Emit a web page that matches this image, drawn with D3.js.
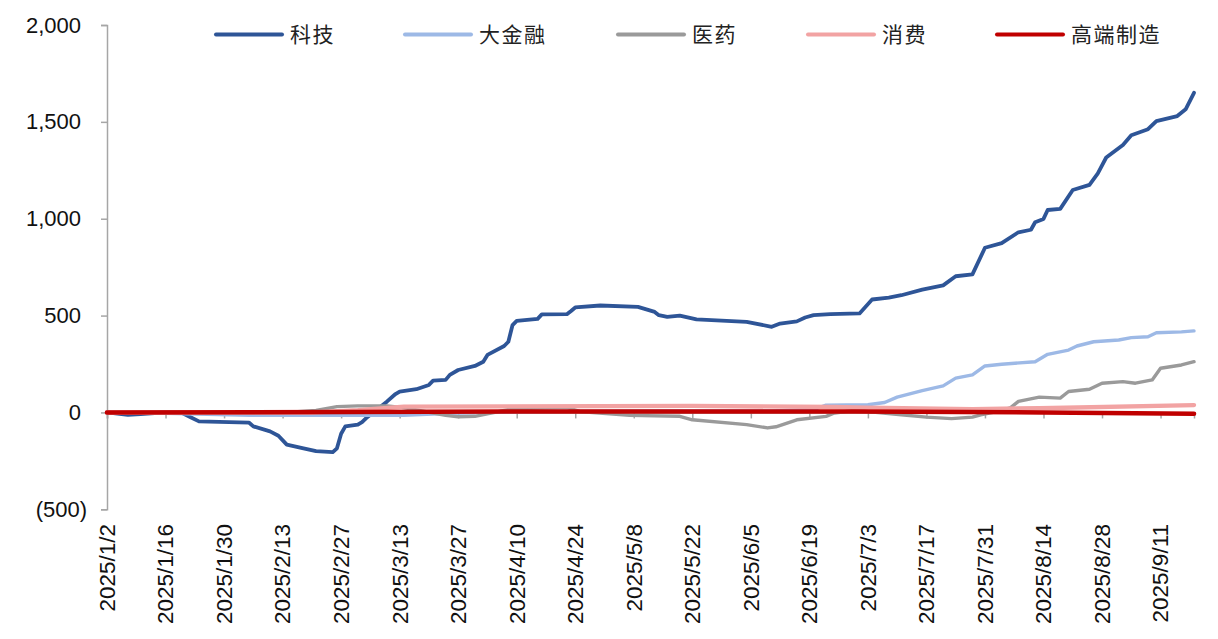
<!DOCTYPE html>
<html>
<head>
<meta charset="utf-8">
<script src="https://cdn.jsdelivr.net/npm/d3@7"></script>
<style>
  html, body { margin: 0; padding: 0; background: #fff; }
  svg { display: block; }
</style>
</head>
<body>
<svg id="chart" width="1218" height="639"></svg>
<script>
// ---------- data ----------
const seriesNames = ["科技", "大金融", "医药", "消费", "高端制造"];

const techDates = ["2025/1/2","2025/1/7","2025/1/10","2025/1/16","2025/1/20","2025/1/22","2025/1/24","2025/2/5","2025/2/6","2025/2/10","2025/2/12","2025/2/14","2025/2/18","2025/2/21","2025/2/25","2025/2/26","2025/2/27","2025/2/28","2025/3/3","2025/3/4","2025/3/5","2025/3/7","2025/3/10","2025/3/12","2025/3/13","2025/3/17","2025/3/20","2025/3/21","2025/3/24","2025/3/25","2025/3/27","2025/3/31","2025/4/2","2025/4/3","2025/4/7","2025/4/8","2025/4/9","2025/4/10","2025/4/15","2025/4/16","2025/4/22","2025/4/23","2025/4/24","2025/4/30","2025/5/9","2025/5/13","2025/5/14","2025/5/16","2025/5/19","2025/5/23","2025/6/4","2025/6/10","2025/6/12","2025/6/16","2025/6/18","2025/6/20","2025/6/24","2025/7/1","2025/7/4","2025/7/8","2025/7/11","2025/7/16","2025/7/21","2025/7/24","2025/7/28","2025/7/31","2025/8/4","2025/8/8","2025/8/11","2025/8/12","2025/8/14","2025/8/15","2025/8/18","2025/8/21","2025/8/25","2025/8/27","2025/8/29","2025/9/2","2025/9/4","2025/9/8","2025/9/10","2025/9/15","2025/9/17","2025/9/19"];
const techValues = [0,-12,-8,0,-3,-25,-46,-53,-72,-98,-120,-166,-185,-200,-205,-185,-110,-72,-63,-50,-29,5,57,95,108,120,142,164,168,194,219,240,262,297,343,365,451,473,483,506,507,524,542,552,545,519,502,493,500,480,468,442,459,470,490,502,507,511,583,593,605,634,656,703,713,850,874,930,943,982,999,1045,1051,1148,1175,1234,1316,1381,1431,1462,1504,1530,1565,1650];

const finDates = ["2025/1/2","2025/1/16","2025/2/5","2025/3/14","2025/3/25","2025/4/15","2025/5/15","2025/6/10","2025/6/20","2025/6/23","2025/7/3","2025/7/7","2025/7/10","2025/7/16","2025/7/21","2025/7/24","2025/7/28","2025/7/31","2025/8/4","2025/8/12","2025/8/15","2025/8/20","2025/8/22","2025/8/26","2025/9/1","2025/9/4","2025/9/8","2025/9/10","2025/9/16","2025/9/19"];
const finValues = [0,-5,-15,-15,-5,5,8,8,15,38,40,51,79,113,137,177,194,240,249,262,300,322,343,365,374,386,391,411,416,421];

const medDates = ["2025/1/2","2025/1/16","2025/2/14","2025/2/21","2025/2/26","2025/3/3","2025/3/10","2025/3/14","2025/3/19","2025/3/24","2025/3/27","2025/3/31","2025/4/9","2025/4/22","2025/4/25","2025/5/7","2025/5/19","2025/5/22","2025/6/4","2025/6/9","2025/6/11","2025/6/16","2025/6/23","2025/6/25","2025/7/1","2025/7/3","2025/7/11","2025/7/17","2025/7/23","2025/7/28","2025/7/30","2025/8/4","2025/8/6","2025/8/8","2025/8/13","2025/8/18","2025/8/20","2025/8/25","2025/8/28","2025/9/2","2025/9/5","2025/9/9","2025/9/11","2025/9/16","2025/9/19"];
const medValues = [0,0,0,10,30,34,34,25,5,-15,-22,-20,19,26,5,-15,-20,-38,-63,-80,-74,-38,-20,-3,14,5,-12,-24,-32,-24,-12,9,23,57,79,74,108,120,151,159,151,168,228,245,262];

const consDates = ["2025/1/2","2025/2/20","2025/3/3","2025/3/14","2025/5/22","2025/6/25","2025/7/3","2025/7/28","2025/8/13","2025/9/19"];
const consValues = [0,0,12,30,34,28,25,17,22,38];

const mfgDates = ["2025/1/2","2025/3/1","2025/4/15","2025/6/30","2025/8/14","2025/9/19"];
const mfgValues = [0,2,5,5,0,-7];

const yTicks = [-500, 0, 500, 1000, 1500, 2000];
const xTickLabels = ["2025/1/2","2025/1/16","2025/1/30","2025/2/13","2025/2/27","2025/3/13","2025/3/27","2025/4/10","2025/4/24","2025/5/8","2025/5/22","2025/6/5","2025/6/19","2025/7/3","2025/7/17","2025/7/31","2025/8/14","2025/8/28","2025/9/11"];

const colors = ["#2E5597", "#9DB9E6", "#9A9A9A", "#F2A3A3", "#C00000"];
const widths = [3.8, 3.4, 3.4, 4.4, 4.6];

// ---------- build ----------
const parse = d3.timeParse("%Y/%m/%d");
const seriesData = [
  [techDates, techValues],
  [finDates, finValues],
  [medDates, medValues],
  [consDates, consValues],
  [mfgDates, mfgValues]
].map(([ds, vs]) => ds.map((d, i) => ({ date: parse(d), value: vs[i] })));

const svg = d3.select("#chart");
const x = d3.scaleTime()
  .domain([parse("2025/1/2"), parse("2025/9/19")])
  .range([107, 1194]);
const y = d3.scaleLinear()
  .domain([-500, 2000])
  .range([509.3, 25]);

const fontNum = "'Liberation Sans', Arial, sans-serif";
const axisColor = "#A6A6A6";

// Y axis
const yAxis = d3.axisLeft(y)
  .tickValues(yTicks)
  .tickSize(6)
  .tickPadding(20)
  .tickFormat(v => v < 0 ? "(" + d3.format(",")(-v) + ")" : d3.format(",")(v));
const gy = svg.append("g").attr("transform", "translate(107,0)").call(yAxis);
gy.select(".domain").attr("stroke", axisColor).attr("stroke-width", 1.5);
gy.selectAll(".tick line").attr("stroke", axisColor).attr("stroke-width", 1.5);
gy.selectAll(".tick text")
  .attr("font-family", fontNum)
  .attr("font-size", 22)
  .attr("fill", "#111")
  .attr("dx", d => d < 0 ? 6 : 0);

// X axis at zero
const xAxis = d3.axisBottom(x)
  .tickValues(xTickLabels.map(parse))
  .tickSize(6)
  .tickFormat(d3.timeFormat("%Y/%-m/%-d"));
const gx = svg.append("g").attr("transform", `translate(0,${y(0)})`).call(xAxis);
gx.select(".domain").attr("stroke", axisColor).attr("stroke-width", 1.5);
gx.selectAll(".tick line").attr("stroke", axisColor).attr("stroke-width", 1.5);
gx.selectAll(".tick text").remove();

// X labels at bottom (rotated)
svg.append("g").selectAll("text")
  .data(xTickLabels)
  .join("text")
  .attr("transform", d => `translate(${x(parse(d))},524) rotate(-90)`)
  .attr("text-anchor", "end")
  .attr("dy", "0.35em")
  .attr("font-family", fontNum)
  .attr("font-size", 22.5)
  .attr("fill", "#111")
  .text(d => d);

// Lines
const line = d3.line().x(d => x(d.date)).y(d => y(d.value));
svg.append("g").selectAll("path")
  .data(seriesData)
  .join("path")
  .attr("fill", "none")
  .attr("stroke", (d, i) => colors[i])
  .attr("stroke-width", (d, i) => widths[i])
  .attr("stroke-linejoin", "round")
  .attr("stroke-linecap", "round")
  .attr("d", line);

// Legend
const legendX = [216, 405, 618, 808, 997];
const lg = svg.append("g");
seriesNames.forEach((name, i) => {
  lg.append("line")
    .attr("x1", legendX[i]).attr("x2", legendX[i] + 66)
    .attr("y1", 34.5).attr("y2", 34.5)
    .attr("stroke", colors[i]).attr("stroke-width", 4)
    .attr("stroke-linecap", "round");
  lg.append("text")
    .attr("x", legendX[i] + 74)
    .attr("y", 34.5)
    .attr("dy", "0.36em")
    .attr("font-family", "'Noto Sans CJK SC', sans-serif")
    .attr("font-size", 21)
    .attr("letter-spacing", 1.5)
    .attr("fill", "#222")
    .text(name);
});
</script>
</body>
</html>
